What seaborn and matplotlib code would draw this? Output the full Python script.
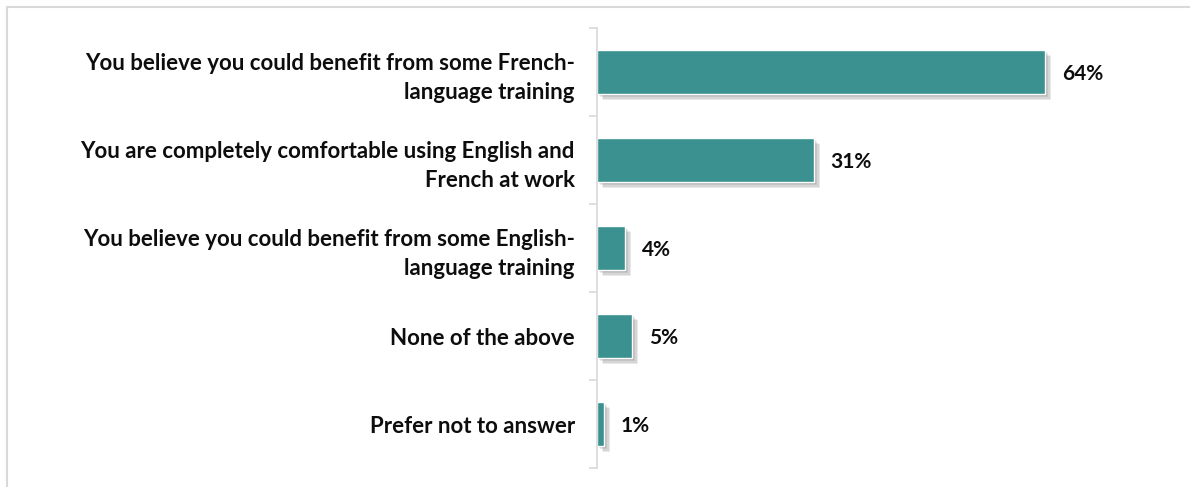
import matplotlib
matplotlib.use("Agg")
import matplotlib.pyplot as plt
import matplotlib.patheffects as pe
from matplotlib.lines import Line2D
import seaborn as sns
import pandas as pd

categories = [
    "You believe you could benefit from some French-\nlanguage training",
    "You are completely comfortable using English and\nFrench at work",
    "You believe you could benefit from some English-\nlanguage training",
    "None of the above",
    "Prefer not to answer",
]
values = [64, 31, 4, 5, 1]
value_labels = ["64%", "31%", "4%", "5%", "1%"]

bar_color = "#3A9190"
frame_color = "#D9D9D9"
text_color = "#0D0D0D"

sns.set_theme(style="white")
plt.rcParams["font.family"] = ["Lato", "DejaVu Sans"]

W, H = 1190, 487
fig = plt.figure(figsize=(W / 100, H / 100), dpi=100)
fig.patch.set_facecolor("white")

# plot area: y axis at x=597, categories from y=28 to y=468
left, right = 597, 1150
top, bottom = 28, 468
ax = fig.add_axes([left / W, 1 - bottom / H, (right - left) / W, (bottom - top) / H])

df = pd.DataFrame({"category": categories, "value": values})
sns.barplot(data=df, x="value", y="category", orient="h", color=bar_color,
            width=0.5, saturation=1, ax=ax)

# soft drop shadow built from a few faint offset copies
shadow = [pe.SimplePatchShadow(offset=(d, -d), shadow_rgbFace="#555555", alpha=0.13)
          for d in (1.5, 2.5, 3.5, 4.5)]
for patch in ax.patches:
    patch.set_path_effects(shadow + [pe.Normal()])

ax.set_xlim(0, (right - left) / 7.0)
ax.set_ylim(len(categories) - 0.5, -0.5)

for i, (v, lab) in enumerate(zip(values, value_labels)):
    ax.annotate(lab, xy=(v, i), xytext=(12, -1.5), textcoords="offset points",
                ha="left", va="center", fontsize=15, fontweight="bold", color=text_color)

ax.set_xlabel("")
ax.set_ylabel("")
ax.set_xticks([])
ax.set_yticks(range(len(categories)))
ax.set_yticklabels(categories, fontsize=16, fontweight="bold", color=text_color,
                   ha="right", linespacing=1.45)
ax.tick_params(axis="y", which="major", length=0, pad=16)
ax.set_yticks([i - 0.5 for i in range(len(categories) + 1)], minor=True)
ax.tick_params(axis="y", which="minor", left=True, length=6, width=1.2,
               color=frame_color, direction="out")

for s in ["top", "right", "bottom"]:
    ax.spines[s].set_visible(False)
ax.spines["left"].set_color(frame_color)
ax.spines["left"].set_linewidth(1.2)
ax.set_facecolor("none")

# outer chart frame (top and left edges)
fig.add_artist(Line2D([7 / W, 1], [1 - 6.5 / H, 1 - 6.5 / H], color=frame_color, lw=1.5,
                      transform=fig.transFigure))
fig.add_artist(Line2D([7 / W, 7 / W], [0, 1 - 6.5 / H], color=frame_color, lw=1.5,
                      transform=fig.transFigure))

fig.savefig("out.png", dpi=100, facecolor="white")
